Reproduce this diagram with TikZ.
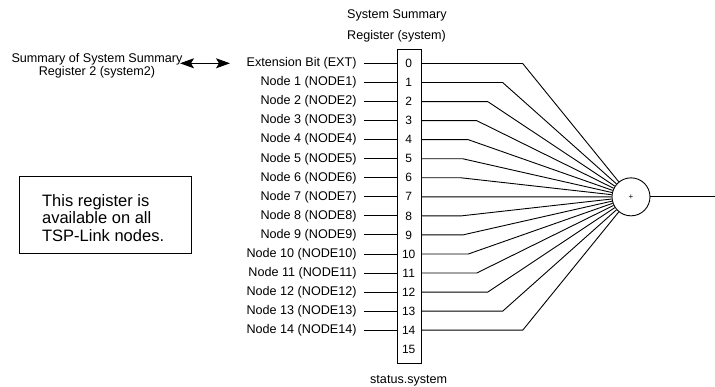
\documentclass[tikz,border=0pt]{standalone}
\usepackage{fontspec}
\setmainfont{Liberation Sans}
\usetikzlibrary{arrows.meta}
\begin{document}
\begin{tikzpicture}[x=1pt,y=-1pt,line width=0.9pt,
  lbl/.style={font=\fontsize{12.6}{13}\selectfont,inner sep=0pt},
  bitnum/.style={font=\fontsize{12}{12}\selectfont,inner sep=0pt},
  notetxt/.style={font=\fontsize{16.5}{17.2}\selectfont,inner sep=0pt,align=left},
  sumnode/.style={draw,circle,minimum size=38pt,inner sep=0pt,font=\fontsize{8}{9}\selectfont}]
\useasboundingbox (0,0) rectangle (715,387);
% register box
\node[draw,minimum width=24pt,minimum height=314pt,inner sep=0pt,anchor=north west] (reg) at (396.7,49.3) {};
\foreach \i in {0,...,15} {
  \node[bitnum] (b\i) at (408.7,63.5+19.05*\i) {\i};
}
% titles
\node[lbl,anchor=west] (t1) at (346.7,15) {System Summary};
\node[lbl,anchor=west] (t2) at (346.7,36) {Register (system)};
\node[lbl] (t3) at (408.7,380.5) {status.system};
% input labels
\foreach \i/\t in {0/Extension Bit (EXT),1/Node 1 (NODE1),2/Node 2 (NODE2),3/Node 3 (NODE3),4/Node 4 (NODE4),5/Node 5 (NODE5),6/Node 6 (NODE6),7/Node 7 (NODE7),8/Node 8 (NODE8),9/Node 9 (NODE9),10/Node 10 (NODE10),11/Node 11 (NODE11),12/Node 12 (NODE12),13/Node 13 (NODE13),14/Node 14 (NODE14)} {
  \node[lbl,anchor=east] (l\i) at (357,63.5+19.05*\i) {\t};
  \draw ([xshift=6.5pt]l\i.east) -- (reg.west |- l\i.east);
}
% summing node
\node[sumnode] (sum) at (631,196.85) {+};
\coordinate (out) at (715,196.85);
\draw (sum) -- (out);
% fan-in connectors
\foreach \i/\bx in {0/522.7,1/502.7,2/487.7,3/476.7,4/468.3,5/462.7,6/461,8/461,9/462.7,10/468.3,11/476.7,12/487.7,13/502.7,14/522.7} {
  \draw (reg.east |- b\i) -- (\bx,63.5+19.05*\i) -- (sum);
}
\draw (reg.east |- b7) -- (sum);
% summary of system2
\node[lbl,align=center,font=\fontsize{12.6}{13}\selectfont] (s2) at (97,66.2) {Summary of System Summary\\Register 2 (system2)};
\coordinate (a1) at (180,63.3);
\coordinate (a2) at (230,63.3);
\draw[{Stealth[length=14pt,width=10pt,inset=3pt]}-{Stealth[length=14pt,width=10pt,inset=3pt]}] (a1) -- (a2);
% note box
\node[draw,minimum width=172.7pt,minimum height=76.6pt,inner sep=0pt] (note) at (105.35,215) {};
\node[notetxt,anchor=west] (notet) at (41.7,218) {This register is\\available on all\\TSP-Link nodes.};
\end{tikzpicture}
\end{document}
